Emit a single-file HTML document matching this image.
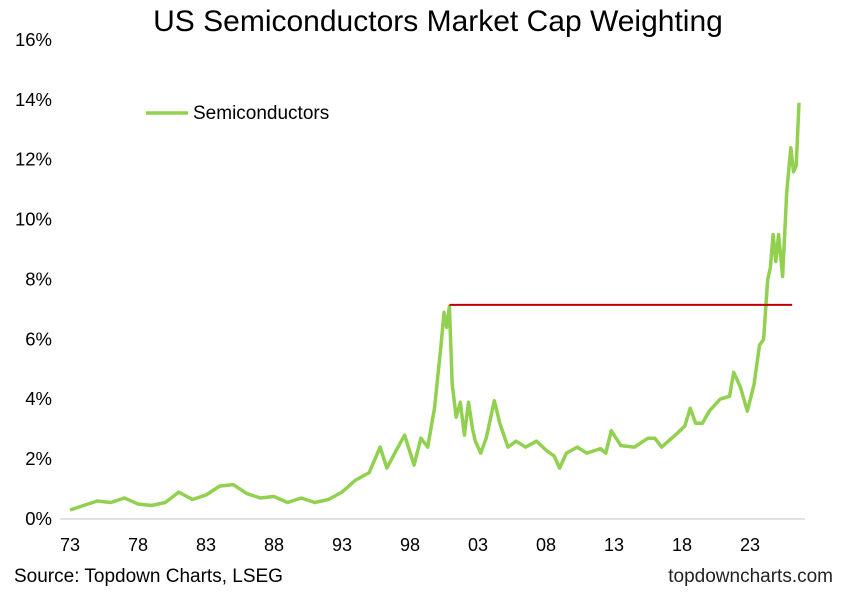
<!DOCTYPE html>
<html><head><meta charset="utf-8"><style>
body{margin:0;background:#fff;font-family:"Liberation Sans",Arial,sans-serif}
</style></head><body>
<svg width="848" height="590" xmlns="http://www.w3.org/2000/svg" id="c" font-family="Liberation Sans, Arial, sans-serif">
<text x="438" y="31" font-size="30" text-anchor="middle" fill="#000">US Semiconductors Market Cap Weighting</text>
<g id="yt"></g><g id="xt"></g>
<line x1="60" y1="519" x2="805" y2="519" stroke="#d9d9d9" stroke-width="1.5"/>
<g id="plot"></g>
<line x1="146" y1="113" x2="188" y2="113" stroke="#92d050" stroke-width="3.5"/>
<text x="193" y="119" font-size="19">Semiconductors</text>
<text x="14" y="582" font-size="19">Source: Topdown Charts, LSEG</text>
<text x="833" y="582" font-size="19" text-anchor="end" fill="#222">topdowncharts.com</text>
</svg>
<script>
const years=[1973,1974,1975,1976,1977,1978,1979,1980,1981,1982,1983,1984,1985,1986,1987,1988,1989,1990,1991,1992,1993,1994,1995,1995.8,1996.3,1997,1997.6,1998.3,1998.8,1999.3,1999.8,2000.3,2000.5,2000.7,2000.9,2001.1,2001.4,2001.7,2002.0,2002.3,2002.6,2002.8,2003.2,2003.6,2004.2,2004.6,2005.2,2005.8,2006.5,2007.3,2008.0,2008.6,2009.0,2009.5,2010.3,2011,2012,2012.4,2012.8,2013.5,2014.5,2015.5,2016,2016.5,2017.5,2018.2,2018.6,2019,2019.5,2020,2020.8,2021.5,2021.8,2022.3,2022.8,2023.3,2023.7,2024.0,2024.3,2024.5,2024.7,2024.9,2025.1,2025.4,2025.7,2026.0,2026.2,2026.4,2026.6];
const values=[0.3,0.45,0.6,0.55,0.7,0.5,0.45,0.55,0.9,0.65,0.8,1.1,1.15,0.85,0.7,0.75,0.55,0.7,0.55,0.65,0.9,1.3,1.55,2.4,1.7,2.3,2.8,1.8,2.7,2.4,3.7,5.9,6.9,6.4,7.1,4.5,3.4,3.9,2.8,3.9,3.0,2.6,2.2,2.7,3.95,3.2,2.4,2.6,2.4,2.6,2.3,2.1,1.7,2.2,2.4,2.2,2.35,2.2,2.95,2.45,2.4,2.7,2.7,2.4,2.8,3.1,3.7,3.2,3.2,3.6,4.0,4.1,4.9,4.4,3.6,4.5,5.8,6.0,8.0,8.4,9.5,8.6,9.5,8.1,10.9,12.4,11.6,11.8,13.9];
const yTicks=[0,2,4,6,8,10,12,14,16];
const xTickYears=[1973,1978,1983,1988,1993,1998,2003,2008,2013,2018,2023];
const peakLevel=7.15, peakStart=2000.9, peakEnd=2026.1;
const ns="http://www.w3.org/2000/svg";
const X=y=>70+(y-1973)*13.6;
const Y=v=>519-v*29.94;
const yt=document.getElementById('yt'),xt=document.getElementById('xt'),plot=document.getElementById('plot');
yTicks.forEach(t=>{const e=document.createElementNS(ns,'text');e.setAttribute('x',52);e.setAttribute('y',Y(t)+6);e.setAttribute('font-size','18.5');e.setAttribute('text-anchor','end');e.textContent=t+'%';


yt.appendChild(e);});
xTickYears.forEach(t=>{const e=document.createElementNS(ns,'text');e.setAttribute('x',X(t));e.setAttribute('y',551);e.setAttribute('font-size','18');e.setAttribute('text-anchor','middle');e.textContent=String(t%100).padStart(2,'0');


xt.appendChild(e);});
const p=document.createElementNS(ns,'polyline');
p.setAttribute('points',years.map((y,i)=>X(y).toFixed(1)+','+Y(values[i]).toFixed(1)).join(' '));
p.setAttribute('fill','none');p.setAttribute('stroke','#92d050');p.setAttribute('stroke-width','3.5');p.setAttribute('stroke-linejoin','round');


plot.appendChild(p);
const r=document.createElementNS(ns,'line');
r.setAttribute('x1',X(peakStart));r.setAttribute('x2',X(peakEnd));r.setAttribute('y1',Y(peakLevel));r.setAttribute('y2',Y(peakLevel));
r.setAttribute('stroke','#c00000');r.setAttribute('stroke-width','2');


plot.appendChild(r);
</script>
</body></html>
